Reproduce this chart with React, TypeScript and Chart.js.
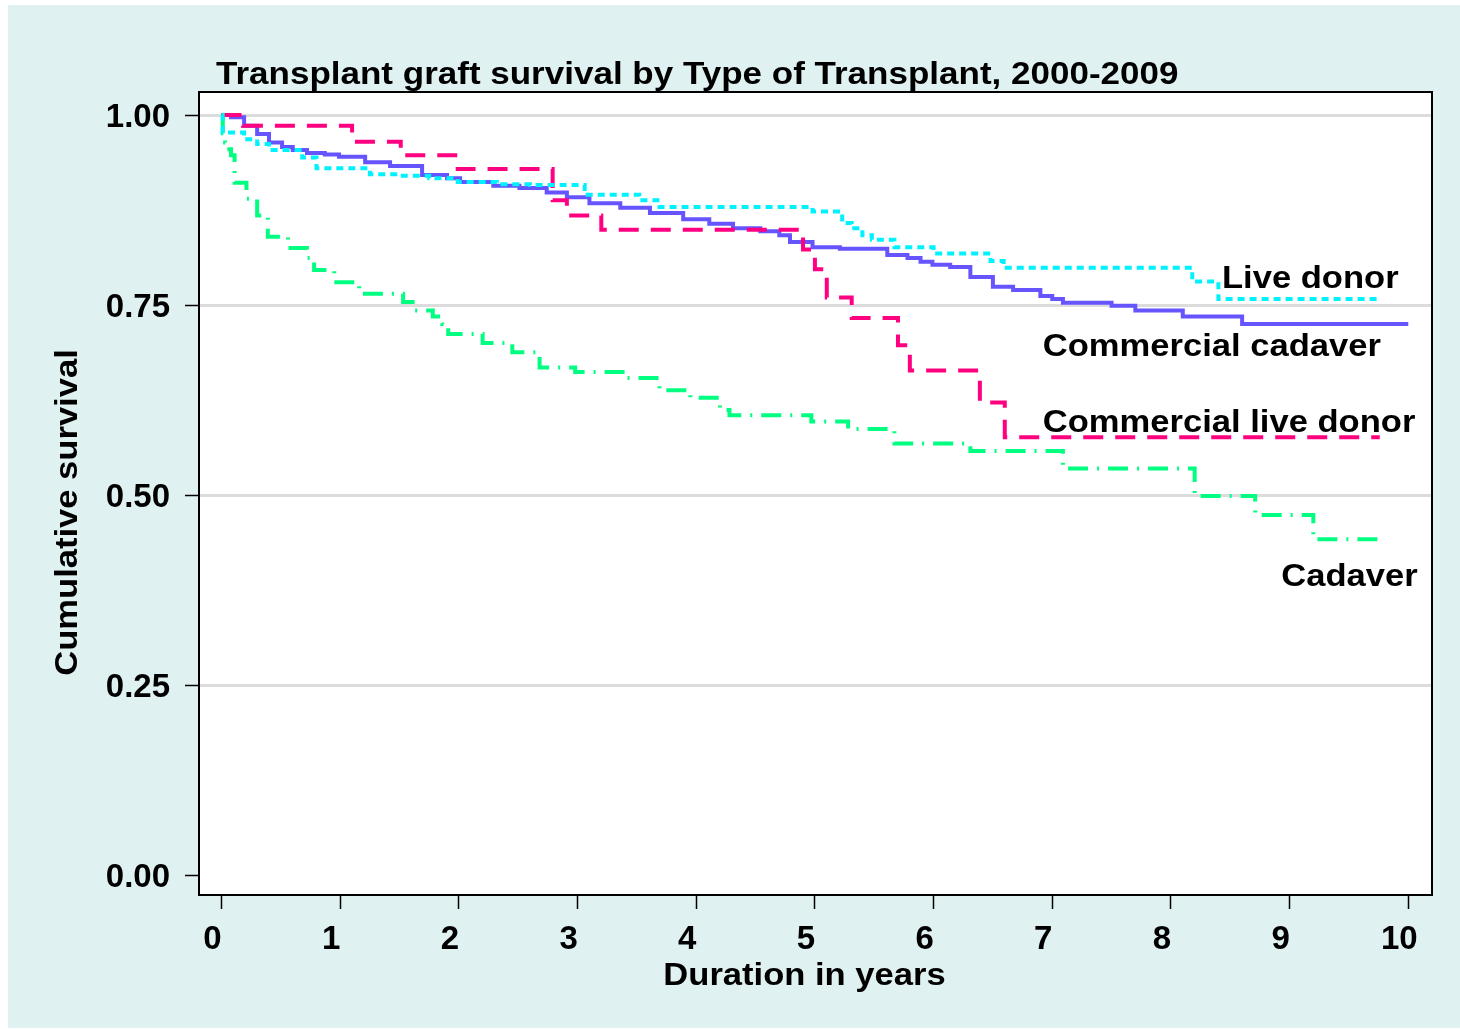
import React, { useEffect, useRef } from "react";
import { Chart, registerables } from "chart.js";

Chart.register(...registerables);

// ---- Data ----
const xTicks = [0, 1, 2, 3, 4, 5, 6, 7, 8, 9, 10];
const yTicks = [0, 0.25, 0.5, 0.75, 1];

const titleText = "Transplant graft survival by Type of Transplant, 2000-2009";
const xTitle = "Duration in years";
const yTitle = "Cumulative survival";

const seriesNames = ["Live donor", "Commercial cadaver", "Commercial live donor", "Cadaver"];

// Live donor (years, survival)
const liveDonorT = [0, 0.01, 0.19, 0.3, 0.4, 0.68, 0.8, 1.25, 1.5, 1.75, 1.99, 2.32, 2.6, 3.06, 3.52, 3.69, 4.98, 5.23, 5.31, 5.4, 5.48, 5.67, 6.0, 6.48, 6.59, 8.18, 8.4, 9.76];
const liveDonorS = [1.0, 0.977, 0.968, 0.962, 0.954, 0.944, 0.93, 0.922, 0.92, 0.917, 0.912, 0.909, 0.908, 0.895, 0.888, 0.879, 0.873, 0.858, 0.851, 0.842, 0.836, 0.826, 0.818, 0.808, 0.799, 0.781, 0.758, 0.758];

// Commercial cadaver
const commCadT = [0, 0.08, 0.19, 0.3, 0.4, 0.51, 0.6, 0.72, 0.87, 0.99, 1.21, 1.42, 1.69, 1.9, 2.01, 2.29, 2.51, 2.74, 2.91, 3.1, 3.36, 3.61, 3.89, 4.11, 4.31, 4.54, 4.7, 4.79, 4.98, 5.21, 5.61, 5.78, 5.89, 5.99, 6.14, 6.31, 6.5, 6.67, 6.9, 7.0, 7.09, 7.5, 7.7, 8.1, 8.6, 10.0];
const commCadS = [1.0, 0.997, 0.986, 0.975, 0.964, 0.958, 0.954, 0.95, 0.948, 0.945, 0.938, 0.933, 0.921, 0.917, 0.912, 0.907, 0.904, 0.898, 0.892, 0.884, 0.878, 0.871, 0.863, 0.857, 0.851, 0.847, 0.842, 0.833, 0.826, 0.824, 0.816, 0.812, 0.807, 0.803, 0.8, 0.787, 0.774, 0.77, 0.762, 0.758, 0.753, 0.749, 0.743, 0.735, 0.725, 0.725];

// Commercial live donor
const commLiveT = [0, 0.18, 1.1, 1.51, 1.99, 2.79, 2.91, 3.2, 4.9, 5.0, 5.1, 5.31, 5.7, 5.8, 6.39, 6.6, 9.76];
const commLiveS = [1.0, 0.986, 0.965, 0.947, 0.929, 0.888, 0.868, 0.849, 0.823, 0.797, 0.76, 0.733, 0.697, 0.664, 0.622, 0.576, 0.576];

// Cadaver
const cadaverT = [0, 0.01, 0.03, 0.04, 0.08, 0.11, 0.21, 0.3, 0.39, 0.56, 0.72, 0.78, 0.95, 1.16, 1.53, 1.61, 1.78, 1.86, 1.91, 2.2, 2.45, 2.68, 2.98, 3.4, 3.69, 3.95, 4.2, 4.28, 4.97, 5.28, 5.67, 6.31, 7.09, 8.2, 8.71, 9.2, 9.78];
const cadaverS = [1.0, 0.976, 0.964, 0.955, 0.947, 0.911, 0.89, 0.868, 0.84, 0.825, 0.812, 0.796, 0.78, 0.765, 0.754, 0.743, 0.735, 0.725, 0.712, 0.7, 0.688, 0.668, 0.662, 0.654, 0.638, 0.628, 0.612, 0.605, 0.597, 0.587, 0.568, 0.558, 0.535, 0.499, 0.474, 0.442, 0.442];

// label anchors in data units (left edge x, baseline y)
const labelX = [8.43, 6.92, 6.92, 8.93];
const labelY = [0.772, 0.683, 0.583, 0.38];

const FONT_FAMILY = '"Liberation Sans", Arial, Helvetica, sans-serif';
const BG = "#e0f1f1";
const STRETCH = 1.08;
const TITLE_STRETCH = 1.094;

const toPoints = (t: number[], s: number[]) => t.map((x, i) => ({ x, y: s[i] }));

function stretchedText(ctx: CanvasRenderingContext2D, text: string, x: number, y: number, sx: number, rotate = 0) {
  ctx.save();
  ctx.translate(x, y);
  if (rotate) ctx.rotate(rotate);
  ctx.scale(sx, 1);
  ctx.fillText(text, 0, 0);
  ctx.restore();
}

const decorPlugin = {
  id: "decor",
  beforeDraw(chart: any) {
    const { ctx, chartArea } = chart;
    ctx.save();
    ctx.fillStyle = "#ffffff";
    ctx.fillRect(0, 0, chart.width, chart.height);
    ctx.fillStyle = BG;
    ctx.fillRect(8, 5, chart.width - 8, chart.height - 6);
    ctx.fillStyle = "#ffffff";
    ctx.fillRect(chartArea.left, chartArea.top, chartArea.right - chartArea.left, chartArea.bottom - chartArea.top);
    ctx.restore();
  },
  afterDatasetsDraw(chart: any) {
    const { ctx, scales } = chart;
    ctx.save();
    ctx.fillStyle = "#000";
    ctx.font = `bold 32px ${FONT_FAMILY}`;
    ctx.textBaseline = "alphabetic";
    ctx.textAlign = "left";
    seriesNames.forEach((name, i) => {
      stretchedText(ctx, name, scales.x.getPixelForValue(labelX[i]), scales.y.getPixelForValue(labelY[i]), STRETCH);
    });
    ctx.restore();
  },
  afterDraw(chart: any) {
    const { ctx, chartArea } = chart;
    ctx.save();
    ctx.strokeStyle = "#000";
    ctx.lineWidth = 2;
    ctx.strokeRect(chartArea.left, chartArea.top, chartArea.right - chartArea.left, chartArea.bottom - chartArea.top);
    ctx.fillStyle = "#000";
    ctx.font = `bold 32px ${FONT_FAMILY}`;
    ctx.textBaseline = "alphabetic";
    ctx.textAlign = "left";
    stretchedText(ctx, titleText, chartArea.left + 17, 84, TITLE_STRETCH);
    ctx.textAlign = "center";
    stretchedText(ctx, xTitle, (chartArea.left + chartArea.right) / 2 - 11, 985, STRETCH);
    stretchedText(ctx, yTitle, 77, (chartArea.top + chartArea.bottom) / 2 + 19, STRETCH, -Math.PI / 2);
    ctx.restore();
  },
};

export default function App() {
  const canvasRef = useRef<HTMLCanvasElement | null>(null);

  useEffect(() => {
    const canvas = canvasRef.current;
    if (!canvas) return;
    const tickFont = { family: FONT_FAMILY, size: 33, weight: "bold" as const };
    const chart = new Chart(canvas, {
      type: "line",
      data: {
        datasets: [
          {
            label: seriesNames[0],
            data: toPoints(liveDonorT, liveDonorS),
            borderColor: "#00f2ff",
            borderWidth: 4,
            borderDash: [7, 5],
            stepped: true,
            pointRadius: 0,
            fill: false,
          },
          {
            label: seriesNames[2],
            data: toPoints(commLiveT, commLiveS),
            borderColor: "#ff0080",
            borderWidth: 4,
            borderDash: [20, 12],
            stepped: true,
            pointRadius: 0,
            fill: false,
          },
          {
            label: seriesNames[1],
            data: toPoints(commCadT, commCadS),
            borderColor: "#6655ff",
            borderWidth: 4,
            stepped: true,
            pointRadius: 0,
            fill: false,
          },
          {
            label: seriesNames[3],
            data: toPoints(cadaverT, cadaverS),
            borderColor: "#00ff80",
            borderWidth: 4,
            borderDash: [20, 9, 2, 9],
            stepped: true,
            pointRadius: 0,
            fill: false,
          },
        ],
      },
      options: {
        responsive: false,
        animation: false,
        devicePixelRatio: 1,
        layout: { padding: { left: 0, right: 28, top: 92, bottom: 0 } },
        plugins: { legend: { display: false }, tooltip: { enabled: false }, title: { display: false } },
        scales: {
          x: {
            type: "linear",
            min: -0.19,
            max: 10.2,
            afterFit: (s: any) => { s.height = 134; },
            afterBuildTicks: (s: any) => { s.ticks = xTicks.map((v) => ({ value: v })); },
            border: { display: false },
            grid: { drawOnChartArea: false, drawTicks: true, tickLength: 14, tickColor: "#000", tickWidth: 1.5 },
            ticks: { font: tickFont, color: "#000", padding: 11, labelOffset: -9, maxRotation: 0, autoSkip: false, callback: (v: any) => String(v) },
          },
          y: {
            type: "linear",
            min: -0.026,
            max: 1.0303,
            afterFit: (s: any) => { s.width = 199; },
            afterBuildTicks: (s: any) => { s.ticks = yTicks.map((v) => ({ value: v })); },
            border: { display: false },
            grid: {
              color: (c: any) => (c.tick && c.tick.value === 0 ? "rgba(0,0,0,0)" : "#dcdcdc"),
              lineWidth: 3,
              drawTicks: true,
              tickLength: 14,
              tickColor: "#000",
              tickWidth: 1.5,
            },
            ticks: { font: tickFont, color: "#000", padding: 15, labelOffset: 3, autoSkip: false, callback: (v: any) => Number(v).toFixed(2) },
          },
        },
      },
      plugins: [decorPlugin],
    });
    return () => chart.destroy();
  }, []);

  return (
    <div style={{ position: "fixed", left: 0, top: 0, width: 1460, height: 1029 }}>
      <canvas ref={canvasRef} width={1460} height={1029} style={{ display: "block" }} />
    </div>
  );
}
